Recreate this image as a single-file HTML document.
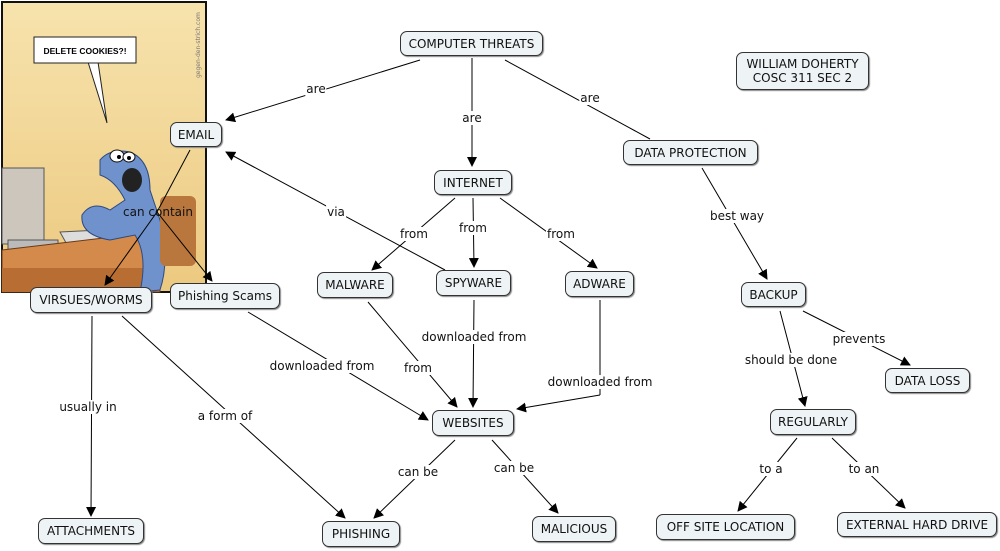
<!DOCTYPE html>
<html><head><meta charset="utf-8"><style>
body{margin:0;width:1000px;height:551px;background:#fff;position:relative;overflow:hidden;font-family:"DejaVu Sans","Liberation Sans",sans-serif;font-size:12px;color:#111}
.n{position:absolute;box-sizing:border-box;background:#eef3f5;border:1px solid #333;border-radius:7px;display:flex;align-items:center;justify-content:center;text-align:center;line-height:14px;box-shadow:1px 1px 1px #888;white-space:nowrap}
.l{position:absolute;background:#fff;padding:0 1px;transform:translate(-50%,-50%);white-space:nowrap;line-height:14px}
svg{position:absolute;left:0;top:0}
</style></head><body>
<svg width="1000" height="551">
<defs><marker id="a" markerWidth="10" markerHeight="10" refX="9" refY="5" orient="auto" markerUnits="userSpaceOnUse"><path d="M0,0 L10,5 L0,10z" fill="#000"/></marker>
<linearGradient id="g" x1="0" y1="0" x2="0" y2="1"><stop offset="0" stop-color="#f7e3ad"/><stop offset="1" stop-color="#ecc980"/></linearGradient></defs>
<rect x="2" y="2" width="204" height="290" fill="url(#g)" stroke="#111" stroke-width="2"/>
<polygon points="88,62 98,62 107,123" fill="#fff" stroke="#222"/>
<rect x="34" y="37" width="102" height="26" fill="#fff" stroke="#222"/>
<text x="85" y="54" font-size="8.5" font-weight="bold" text-anchor="middle" font-family="Liberation Sans,sans-serif">DELETE COOKIES?!</text>
<text x="200" y="78" font-size="6" fill="#777" transform="rotate(-90 200 78)">gegen-den-strich.com</text>
<rect x="2" y="168" width="42" height="76" fill="#ccc6bc" stroke="#555"/>
<rect x="8" y="240" width="50" height="10" fill="#bbb" stroke="#555"/>
<polygon points="60,232 140,228 150,245 70,250" fill="#ddd" stroke="#555"/>
<polygon points="2,250 155,232 158,250 160,292 2,292" fill="#d38a4a" stroke="#6b3a16"/>
<rect x="2" y="268" width="150" height="24" fill="#b86e33"/>
<path d="M100,160 Q110,148 130,152 Q150,160 150,190 L160,220 Q170,260 160,290 L140,292 Q148,255 135,235 L110,240 Q80,235 82,215 Q92,200 110,210 L125,200 Q115,180 100,175z" fill="#6f92cc" stroke="#2d4a80"/>
<ellipse cx="117" cy="156" rx="7" ry="6" fill="#fff" stroke="#111"/><ellipse cx="129" cy="157" rx="6" ry="5" fill="#fff" stroke="#111"/>
<circle cx="119" cy="157" r="2"/><circle cx="129" cy="158" r="2"/>
<ellipse cx="132" cy="180" rx="10" ry="12" fill="#222"/>
<rect x="160" y="196" width="36" height="70" rx="6" fill="#b9773e"/>
<g stroke="#000" stroke-width="1" fill="none">
<line x1="420" y1="60" x2="226" y2="120" marker-end="url(#a)"/>
<line x1="472" y1="58" x2="472" y2="166" marker-end="url(#a)"/>
<line x1="505" y1="60" x2="650" y2="139"/>
<line x1="702" y1="168" x2="767" y2="279" marker-end="url(#a)"/>
<line x1="455" y1="198" x2="372" y2="270" marker-end="url(#a)"/>
<line x1="473" y1="198" x2="474" y2="267" marker-end="url(#a)"/>
<line x1="500" y1="198" x2="597" y2="268" marker-end="url(#a)"/>
<line x1="445" y1="270" x2="226" y2="152" marker-end="url(#a)"/>
<line x1="190" y1="150" x2="157" y2="212"/>
<line x1="157" y1="212" x2="105" y2="285" marker-end="url(#a)"/>
<line x1="157" y1="212" x2="212" y2="281" marker-end="url(#a)"/>
<line x1="92" y1="316" x2="91" y2="516" marker-end="url(#a)"/>
<line x1="122" y1="316" x2="345" y2="518" marker-end="url(#a)"/>
<line x1="248" y1="312" x2="428" y2="420" marker-end="url(#a)"/>
<line x1="368" y1="302" x2="457" y2="407" marker-end="url(#a)"/>
<line x1="474" y1="300" x2="473" y2="407" marker-end="url(#a)"/>
<line x1="600" y1="300" x2="600" y2="395"/>
<line x1="600" y1="395" x2="517" y2="409" marker-end="url(#a)"/>
<line x1="455" y1="440" x2="374" y2="518" marker-end="url(#a)"/>
<line x1="492" y1="440" x2="558" y2="513" marker-end="url(#a)"/>
<line x1="780" y1="311" x2="805" y2="406" marker-end="url(#a)"/>
<line x1="803" y1="311" x2="910" y2="365" marker-end="url(#a)"/>
<line x1="797" y1="438" x2="738" y2="511" marker-end="url(#a)"/>
<line x1="832" y1="438" x2="905" y2="508" marker-end="url(#a)"/>
</g>
</svg>
<div class="l" style="left:316px;top:89px">are</div>
<div class="l" style="left:472px;top:118px">are</div>
<div class="l" style="left:590px;top:98px">are</div>
<div class="l" style="left:737px;top:216px">best way</div>
<div class="l" style="left:414px;top:234px">from</div>
<div class="l" style="left:473px;top:228px">from</div>
<div class="l" style="left:561px;top:234px">from</div>
<div class="l" style="left:336px;top:212px">via</div>
<div class="l" style="left:158px;top:212px;background:none">can contain</div>
<div class="l" style="left:88px;top:407px">usually in</div>
<div class="l" style="left:225px;top:416px">a form of</div>
<div class="l" style="left:322px;top:366px">downloaded from</div>
<div class="l" style="left:418px;top:368px">from</div>
<div class="l" style="left:474px;top:337px">downloaded from</div>
<div class="l" style="left:600px;top:382px">downloaded from</div>
<div class="l" style="left:418px;top:472px">can be</div>
<div class="l" style="left:514px;top:468px">can be</div>
<div class="l" style="left:791px;top:360px">should be done</div>
<div class="l" style="left:859px;top:339px">prevents</div>
<div class="l" style="left:771px;top:469px">to a</div>
<div class="l" style="left:864px;top:469px">to an</div>

<div class="n" style="left:400px;top:31px;width:143px;height:25px">COMPUTER THREATS</div>
<div class="n" style="left:736px;top:52px;width:133px;height:38px">WILLIAM DOHERTY<br>COSC 311 SEC 2</div>
<div class="n" style="left:170px;top:122px;width:52px;height:25px">EMAIL</div>
<div class="n" style="left:434px;top:170px;width:78px;height:25px">INTERNET</div>
<div class="n" style="left:623px;top:140px;width:135px;height:25px">DATA PROTECTION</div>
<div class="n" style="left:30px;top:287px;width:122px;height:26px">VIRSUES/WORMS</div>
<div class="n" style="left:170px;top:283px;width:110px;height:26px">Phishing Scams</div>
<div class="n" style="left:317px;top:272px;width:76px;height:26px">MALWARE</div>
<div class="n" style="left:436px;top:270px;width:75px;height:26px">SPYWARE</div>
<div class="n" style="left:565px;top:271px;width:69px;height:26px">ADWARE</div>
<div class="n" style="left:741px;top:282px;width:65px;height:25px">BACKUP</div>
<div class="n" style="left:885px;top:368px;width:85px;height:25px">DATA LOSS</div>
<div class="n" style="left:432px;top:410px;width:82px;height:26px">WEBSITES</div>
<div class="n" style="left:770px;top:409px;width:86px;height:26px">REGULARLY</div>
<div class="n" style="left:38px;top:518px;width:106px;height:26px">ATTACHMENTS</div>
<div class="n" style="left:322px;top:521px;width:78px;height:26px">PHISHING</div>
<div class="n" style="left:532px;top:516px;width:84px;height:26px">MALICIOUS</div>
<div class="n" style="left:656px;top:514px;width:139px;height:26px">OFF SITE LOCATION</div>
<div class="n" style="left:837px;top:512px;width:160px;height:25px">EXTERNAL HARD DRIVE</div>
</body></html>
